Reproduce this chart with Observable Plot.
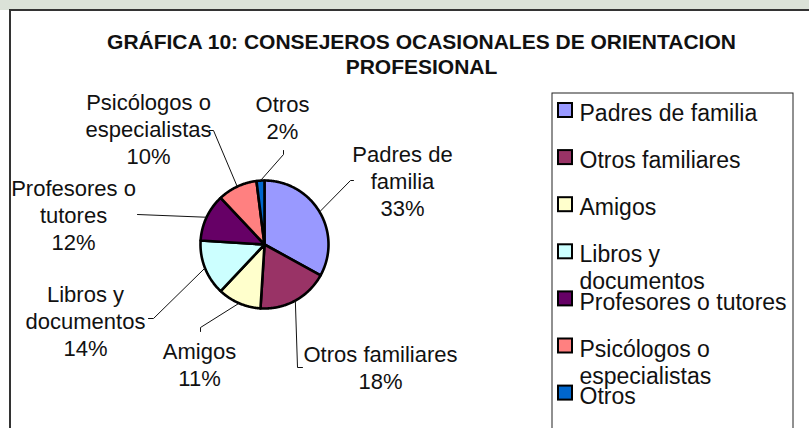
<!DOCTYPE html>
<html><head><meta charset="utf-8">
<script src="https://cdn.jsdelivr.net/npm/d3@7"></script>
<script src="https://cdn.jsdelivr.net/npm/@observablehq/plot@0.6"></script>
<style>html,body{margin:0;padding:0;background:#fff;overflow:hidden} svg{display:block}</style>
</head><body><div id="chart"></div>
<script>
// ---- data ----
const categories = ["Padres de familia","Otros familiares","Amigos","Libros y documentos","Profesores o tutores","Psicólogos o especialistas","Otros"];
const percents = [33, 18, 11, 14, 12, 10, 2];
const colors = ["#9999FF","#993366","#FFFFCC","#CCFFFF","#660066","#FF8080","#0066CC"];
const sliceLabels = ["Padres de\nfamilia","Otros familiares","Amigos","Libros y\ndocumentos","Profesores o\ntutores","Psicólogos o\nespecialistas","Otros"];
const legendLabels = ["Padres de familia","Otros familiares","Amigos","Libros y\ndocumentos","Profesores o tutores","Psicólogos o\nespecialistas","Otros"];
const titleLines = ["GRÁFICA 10: CONSEJEROS OCASIONALES DE ORIENTACION","PROFESIONAL"];

// ---- layout ----
const W = 809, H = 428;
const pie = {cx: 264, cy: 244, r: 64};
const labelPos = [[402,180],[380,366],[199,363],[85,320],[73,214],[148,128],[282,116]];
const leaderElbows = [
  [[353,180],[350,180]],
  [[302,367],[297,367]],
  [[200,331],[200,327]],
  [[148,318],[153,318]],
  [[137,214]],
  [[209,130],[213,130]],
  [[283,150],[283,154]]
];
const legend = {x1: 552, x2: 793, y1: 93, sw: 14, swX: 558, textX: 579, y0: 110, step: 47.1};

// ---- geometry from data ----
const arcs = d3.pie().sort(null).value(d => d)(percents);
const pt = (a, r) => [pie.cx + r * Math.sin(a), pie.cy - r * Math.cos(a)];
const sliceMarks = arcs.map((a, i) => {
  const pts = [[pie.cx, pie.cy]];
  const n = Math.max(2, Math.ceil((a.endAngle - a.startAngle) / 0.01));
  for (let k = 0; k <= n; k++) pts.push(pt(a.startAngle + (a.endAngle - a.startAngle) * k / n, pie.r));
  pts.push([pie.cx, pie.cy]);
  return Plot.line(pts, {x: d => d[0], y: d => d[1], fill: colors[i], stroke: "#000", strokeWidth: 2.6, strokeLinejoin: "round", curve: "linear"});
});
const leaderMarks = arcs.map((a, i) => {
  const mid = (a.startAngle + a.endAngle) / 2;
  const pts = [...leaderElbows[i], pt(mid, pie.r)];
  return Plot.line(pts, {x: d => d[0], y: d => d[1], stroke: "#111", strokeWidth: 1});
});
const labelData = categories.map((c, i) => ({
  text: sliceLabels[i] + "\n" + percents[i] + "%", x: labelPos[i][0], y: labelPos[i][1]
}));
const legendData = categories.map((c, i) => ({
  name: c, label: legendLabels[i], color: colors[i], y: legend.y0 + i * legend.step
}));

const chart = Plot.plot({
  width: W, height: H, margin: 0,
  x: {domain: [0, W], range: [0, W], axis: null},
  y: {domain: [0, H], range: [0, H], axis: null},
  style: {fontFamily: "'Liberation Sans', Arial, sans-serif", background: "#fff", overflow: "hidden"},
  marks: [
    Plot.rect([0], {x1: 0, x2: W, y1: 0, y2: 10, fill: "#dbe2d8"}),
    Plot.rect([0], {x1: 10, x2: W + 20, y1: 10, y2: H + 20, fill: "#fff", stroke: "#333", strokeWidth: 2}),
    Plot.text(titleLines, {x: 421, y: (d, i) => 42 + i * 24.5, text: d => d, fontWeight: "bold", fontSize: 21, fill: "#111"}),
    ...sliceMarks,
    ...leaderMarks,
    Plot.text(labelData, {x: "x", y: "y", text: "text", fontSize: 22, lineHeight: 1.23, lineAnchor: "middle", fill: "#111"}),
    Plot.rect([0], {x1: legend.x1, x2: legend.x2, y1: legend.y1, y2: H + 20, fill: "none", stroke: "#222", strokeWidth: 1}),
    Plot.rect(legendData, {x1: legend.swX, x2: legend.swX + legend.sw, y1: d => d.y - legend.sw / 2, y2: d => d.y + legend.sw / 2, fill: "color", stroke: "#000", strokeWidth: 2}),
    Plot.text(legendData, {x: legend.textX, y: d => d.y - 8.5, text: "label", textAnchor: "start", lineAnchor: "top", fontSize: 23, lineHeight: 1.17, fill: "#111"})
  ]
});
document.getElementById("chart").appendChild(chart);
</script>
</body></html>
